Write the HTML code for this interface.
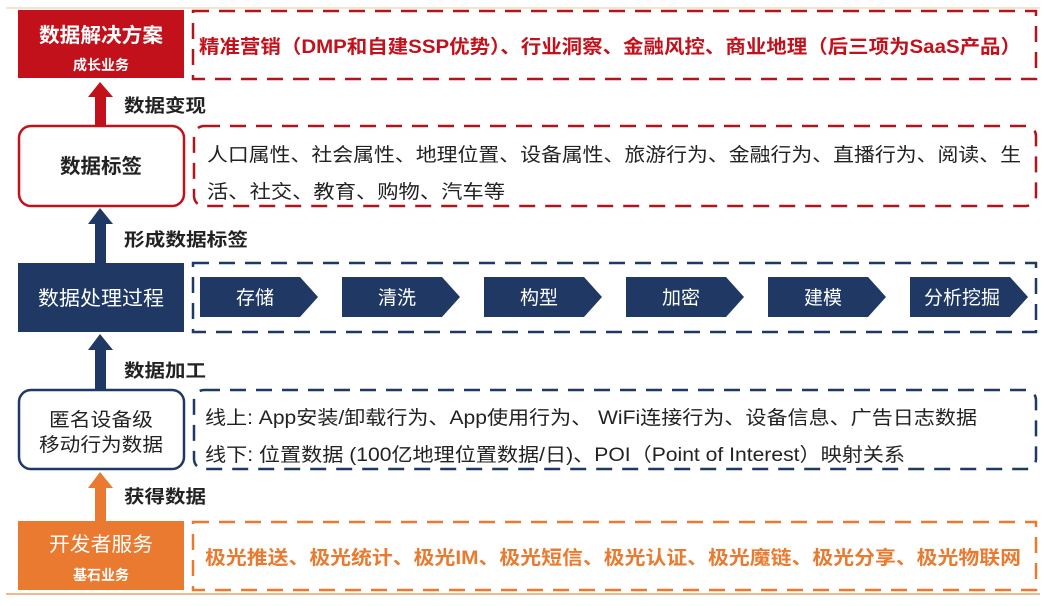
<!DOCTYPE html>
<html><head><meta charset="utf-8"><style>
body{margin:0;background:#fff;}
svg text{font-family:"Liberation Sans","Noto Sans CJK SC",sans-serif;}
</style></head><body>
<svg width="1046" height="601" viewBox="0 0 1046 601" xmlns="http://www.w3.org/2000/svg">
<line x1="6" y1="8" x2="1040" y2="8" stroke="#f0c89a" stroke-width="1"/>
<line x1="6" y1="594" x2="1040" y2="594" stroke="#f0a060" stroke-width="1.5"/>
<!-- top red -->
<rect x="18" y="10" width="166" height="68" fill="#c2111b"/>
<text x="101" y="42" fill="#fff" font-size="20" text-anchor="middle" font-weight="bold" textLength="124" lengthAdjust="spacingAndGlyphs">数据解决方案</text>
<text x="101" y="70" fill="#fff" font-size="14" text-anchor="middle" font-weight="bold">成长业务</text>
<rect x="193" y="11" width="843" height="68" fill="none" stroke="#b0151d" stroke-width="2.5" stroke-dasharray="16,10"/>
<text x="199" y="53" fill="#c2111b" font-size="19" font-weight="bold" textLength="822" lengthAdjust="spacingAndGlyphs">精准营销（DMP和自建SSP优势）、行业洞察、金融风控、商业地理（后三项为SaaS产品）</text>
<!-- arrow red -->
<rect x="95" y="96" width="11" height="30" fill="#c2111b"/>
<polygon points="88,97 100,82 113,97" fill="#c2111b"/>
<text x="124" y="112" fill="#222" font-size="18" font-weight="bold" textLength="82" lengthAdjust="spacingAndGlyphs">数据变现</text>
<!-- tags -->
<rect x="19" y="126" width="165" height="80" rx="12" fill="#fff" stroke="#c2111b" stroke-width="2.5"/>
<text x="101" y="173" fill="#222" font-size="20" text-anchor="middle" font-weight="bold" textLength="82" lengthAdjust="spacingAndGlyphs">数据标签</text>
<rect x="194" y="126" width="842" height="80" rx="10" fill="none" stroke="#b0151d" stroke-width="2.5" stroke-dasharray="16,10"/>
<text x="207" y="161" fill="#222" font-size="19" textLength="814" lengthAdjust="spacingAndGlyphs">人口属性、社会属性、地理位置、设备属性、旅游行为、金融行为、直播行为、阅读、生</text>
<text x="207" y="198" fill="#222" font-size="19" textLength="298" lengthAdjust="spacingAndGlyphs">活、社交、教育、购物、汽车等</text>
<!-- arrow navy -->
<rect x="95" y="224" width="11" height="40" fill="#1f3864"/>
<polygon points="88,224 100,208 113,224" fill="#1f3864"/>
<text x="124" y="246" fill="#222" font-size="18" font-weight="bold" textLength="124" lengthAdjust="spacingAndGlyphs">形成数据标签</text>
<!-- process -->
<rect x="18" y="263" width="166" height="69" fill="#1f3864"/>
<text x="101" y="305" fill="#fff" font-size="20" text-anchor="middle" textLength="126" lengthAdjust="spacingAndGlyphs">数据处理过程</text>
<rect x="193" y="263" width="843" height="69" fill="none" stroke="#1f3864" stroke-width="2.5" stroke-dasharray="16,10"/>
<g fill="#1f3864">
<polygon points="200,277 300,277 318,297 300,317 200,317"/>
<polygon points="342,277 442,277 460,297 442,317 342,317"/>
<polygon points="484,277 584,277 602,297 584,317 484,317"/>
<polygon points="626,277 726,277 744,297 726,317 626,317"/>
<polygon points="768,277 868,277 886,297 868,317 768,317"/>
<polygon points="910,277 1010,277 1028,297 1010,317 910,317"/>
</g>
<g fill="#fff" font-size="19" text-anchor="middle">
<text x="255" y="304">存储</text>
<text x="397" y="304">清洗</text>
<text x="539" y="304">构型</text>
<text x="681" y="304">加密</text>
<text x="823" y="304">建模</text>
<text x="962" y="304">分析挖掘</text>
</g>
<!-- arrow navy 2 -->
<rect x="95" y="350" width="11" height="42" fill="#1f3864"/>
<polygon points="88,350 100,334 113,350" fill="#1f3864"/>
<text x="124" y="377" fill="#222" font-size="18" font-weight="bold" textLength="82" lengthAdjust="spacingAndGlyphs">数据加工</text>
<!-- anon -->
<rect x="19" y="390" width="165" height="79" rx="12" fill="#fff" stroke="#1f3864" stroke-width="2.5"/>
<text x="101" y="426" fill="#222" font-size="19" text-anchor="middle" textLength="104" lengthAdjust="spacingAndGlyphs">匿名设备级</text>
<text x="101" y="451" fill="#222" font-size="19" text-anchor="middle" textLength="124" lengthAdjust="spacingAndGlyphs">移动行为数据</text>
<rect x="194" y="390" width="842" height="79" rx="10" fill="none" stroke="#1f3864" stroke-width="2.5" stroke-dasharray="16,10"/>
<text x="205" y="424" fill="#222" font-size="19" textLength="772" lengthAdjust="spacingAndGlyphs">线上: App安装/卸载行为、App使用行为、 WiFi连接行为、设备信息、广告日志数据</text>
<text x="205" y="461" fill="#222" font-size="19" textLength="700" lengthAdjust="spacingAndGlyphs">线下: 位置数据 (100亿地理位置数据/日)、POI（Point of Interest）映射关系</text>
<!-- arrow orange -->
<rect x="95" y="488" width="11" height="34" fill="#e97a2f"/>
<polygon points="88,488 100,472 113,488" fill="#e97a2f"/>
<text x="124" y="503" fill="#222" font-size="18" font-weight="bold" textLength="82" lengthAdjust="spacingAndGlyphs">获得数据</text>
<!-- dev -->
<rect x="18" y="521" width="166" height="69" fill="#e97a2f"/>
<text x="101" y="551" fill="#fff" font-size="20" text-anchor="middle" textLength="104" lengthAdjust="spacingAndGlyphs">开发者服务</text>
<text x="101" y="580" fill="#fff" font-size="14" text-anchor="middle" font-weight="bold">基石业务</text>
<rect x="193" y="522" width="843" height="68" fill="none" stroke="#e97a2f" stroke-width="2.5" stroke-dasharray="16,10"/>
<text x="205" y="564" fill="#e97a2f" font-size="19" font-weight="bold" textLength="816" lengthAdjust="spacingAndGlyphs">极光推送、极光统计、极光IM、极光短信、极光认证、极光魔链、极光分享、极光物联网</text>
</svg>
</body></html>
